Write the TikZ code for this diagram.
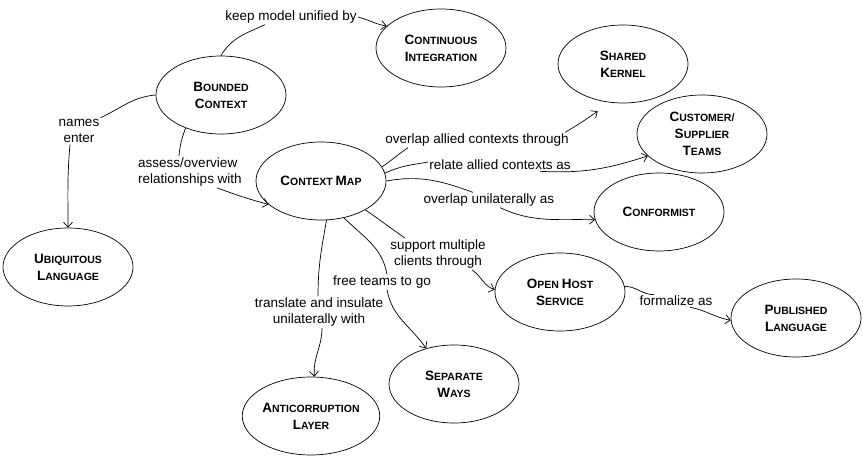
\documentclass[tikz,border=0pt]{standalone}
\usepackage{fontspec}
\setmainfont{Liberation Sans}
\usetikzlibrary{shapes,arrows.meta}

% first letter big, rest as small capitals
\newcommand{\capword}[2]{{\fontsize{13.5}{17}\selectfont #1}#2}

\begin{document}
\begin{tikzpicture}[x=1pt, y=1pt, line width=0.7pt,
    concept/.style={draw, ellipse, minimum width=130pt, minimum height=78pt, inner sep=0pt, align=center, font=\fontsize{10.5}{17}\selectfont\bfseries},
    lbl/.style={inner sep=1pt, align=center, font=\fontsize{13.5}{16.5}\selectfont},
    arr/.style={-{Straight Barb[length=5pt,width=9pt]}}]
    \useasboundingbox (0,0) rectangle (863,-457);

    % Concepts
    \node[concept] (bc) at (221,-95) {\capword{B}{OUNDED}\\\capword{C}{ONTEXT}};
    \node[concept] (ci) at (441,-48) {\capword{C}{ONTINUOUS}\\\capword{I}{NTEGRATION}};
    \node[concept] (sk) at (623,-64) {\capword{S}{HARED}\\\capword{K}{ERNEL}};
    \node[concept] (cst) at (702,-134) {\capword{C}{USTOMER/}\\\capword{S}{UPPLIER}\\\capword{T}{EAMS}};
    \node[concept] (cf) at (659,-212) {\capword{C}{ONFORMIST}};
    \node[concept] (cm) at (321,-181) {\capword{C}{ONTEXT} \capword{M}{AP}};
    \node[concept] (ul) at (68,-267) {\capword{U}{BIQUITOUS}\\\capword{L}{ANGUAGE}};
    \node[concept] (acl) at (311,-416) {\capword{A}{NTICORRUPTION}\\\capword{L}{AYER}};
    \node[concept] (sw) at (454,-384) {\capword{S}{EPARATE}\\\capword{W}{AYS}};
    \node[concept] (ohs) at (560,-292) {\capword{O}{PEN} \capword{H}{OST}\\\capword{S}{ERVICE}};
    \node[concept] (pl) at (796,-318) {\capword{P}{UBLISHED}\\\capword{L}{ANGUAGE}};

    % Labels
    \node[lbl] (lkeep) at (291,-17) {keep model unified by};
    \node[lbl] (lnames) at (79,-131) {names\\enter};
    \node[lbl, align=left] (lassess) at (190,-172) {assess/overview\\relationships with};
    \node[lbl] (lover) at (477,-140) {overlap allied contexts through};
    \node[lbl] (lrelate) at (500,-165) {relate allied contexts as};
    \node[lbl] (lunil) at (489,-200) {overlap unilaterally as};
    \node[lbl] (lsupp) at (438,-254) {support multiple\\clients through};
    \node[lbl] (lfree) at (382,-282) {free teams to go};
    \node[lbl] (ltrans) at (319,-312) {translate and insulate\\unilaterally with};
    \node[lbl] (lform) at (676,-301) {formalize as};

    % From the bounded context
    \draw (bc.north) to[out=60,in=205] ([xshift=-26pt]lkeep.south);
    \draw[arr] (lkeep.east) to[out=-15,in=170] (ci.158);
    \draw (bc.west) to[out=185,in=25] (lnames.north east);
    \draw[arr] ([xshift=-9pt]lnames.south) to[out=265,in=90] (ul.north);
    \draw (bc.-137) to[out=250,in=85] ([xshift=-11pt]lassess.north);
    \draw[arr] ([xshift=27pt]lassess.south) to[out=-20,in=165] (cm.204);

    % From the context map
    \draw (cm.13) to[out=35,in=215] ([xshift=-69pt]lover.south);
    \draw[arr] ([xshift=88pt]lover.north) to[out=30,in=215] ([yshift=-11pt]sk.-125);
    \draw (cm.7) to[out=25,in=190] ([yshift=3pt]lrelate.west);
    \draw[arr] ([xshift=40pt]lrelate.south) to[out=-3,in=198] (cst.202);
    \draw (cm.east) to[out=10,in=160] ([xshift=-16pt]lunil.north);
    \draw[arr] ([xshift=11pt]lunil.south) to[out=-25,in=178] (cf.187);
    \draw (cm.-33) to[out=-35,in=145] ([xshift=-33pt]lsupp.north);
    \draw[arr] ([xshift=34pt]lsupp.south) to[out=-35,in=160] (ohs.178);
    \draw (cm.-58) to[out=-45,in=100] ([xshift=5pt]lfree.north);
    \draw[arr] ([xshift=5pt]lfree.south) to[out=-80,in=125] (sw.128);
    \draw (cm.-82) to[out=-100,in=90] ([xshift=-1pt]ltrans.north);
    \draw[arr] ([xshift=3pt]ltrans.south) to[out=-90,in=95] (acl.85);

    % Open host service onwards
    \draw (ohs.5) to[out=0,in=180] ([xshift=-22pt]lform.north);
    \draw[arr] ([xshift=14pt]lform.south) to[out=-10,in=170] (pl.182);
\end{tikzpicture}
\end{document}
